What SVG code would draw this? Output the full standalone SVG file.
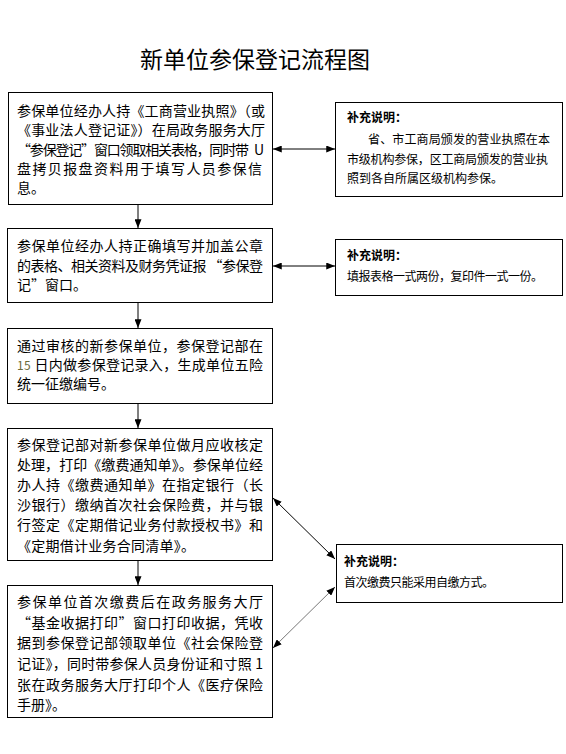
<svg xmlns="http://www.w3.org/2000/svg" width="566" height="754" viewBox="0 0 566 754">
<defs>
<marker id="ah" viewBox="0 0 10 8" refX="10" refY="4" markerWidth="9" markerHeight="7" markerUnits="userSpaceOnUse" orient="auto-start-reverse">
<path d="M0,0 L10,4 L0,8 Z" fill="#000"/>
</marker>
</defs>
<style>
.box{fill:#fff;stroke:#000;stroke-width:1}
.t{font-family:"Noto Sans CJK SC","Liberation Sans",sans-serif;font-size:14px;fill:#000}
.n{font-family:"Noto Sans CJK SC","Liberation Sans",sans-serif;font-size:12px;fill:#000}
.b{font-weight:bold}
.c{stroke:#000;stroke-width:1;fill:none}
</style>
<rect width="566" height="754" fill="#fff"/>
<text x="255" y="68" text-anchor="middle" font-family="'Noto Sans CJK SC','Liberation Sans',sans-serif" font-size="23">新单位参保登记流程图</text>

<g id="connectors">
<line class="c" x1="138" y1="204" x2="138" y2="228" marker-end="url(#ah)"/>
<line class="c" x1="138" y1="302" x2="138" y2="328" marker-end="url(#ah)"/>
<line class="c" x1="138" y1="403" x2="138" y2="428" marker-end="url(#ah)"/>
<line class="c" x1="138" y1="560" x2="138" y2="585" marker-end="url(#ah)"/>
<line class="c" x1="273" y1="149" x2="335" y2="149" marker-start="url(#ah)" marker-end="url(#ah)"/>
<line class="c" x1="273" y1="266" x2="335" y2="266" marker-start="url(#ah)" marker-end="url(#ah)"/>
<line class="c" x1="273" y1="498" x2="335" y2="559" marker-start="url(#ah)" marker-end="url(#ah)"/>
<line x1="335" y1="587" x2="273" y2="648" stroke="#777" stroke-width="1" marker-start="url(#ah)" marker-end="url(#ah)"/>
</g>

<g id="step1">
<rect class="box" x="8.5" y="92.5" width="264" height="112"/>
<text class="t" x="17" y="116" textLength="248" lengthAdjust="spacing">参保单位经办人持《工商营业执照》（或</text>
<text class="t" x="17" y="135" textLength="248" lengthAdjust="spacing">《事业法人登记证》）在局政务服务大厅</text>
<text class="t" x="17" y="155" textLength="232" lengthAdjust="spacing">“参保登记”窗口领取相关表格，同时带</text>
<text class="t" x="254" y="155" fill="#555" font-size="12">U</text>
<text class="t" x="17" y="174" textLength="245" lengthAdjust="spacing">盘拷贝报盘资料用于填写人员参保信</text>
<text class="t" x="17" y="193">息。</text>
</g>

<g id="note1">
<rect class="box" x="335.5" y="102.5" width="227" height="94"/>
<text class="n b" x="347" y="122">补充说明：</text>
<text class="n" x="368" y="144" textLength="182" lengthAdjust="spacing">省、市工商局颁发的营业执照在本</text>
<text class="n" x="347" y="164" textLength="201" lengthAdjust="spacing">市级机构参保，区工商局颁发的营业执</text>
<text class="n" x="347" y="183">照到各自所属区级机构参保。</text>
</g>

<g id="step2">
<rect class="box" x="7.5" y="228.5" width="265" height="74"/>
<text class="t" x="17" y="251" textLength="246" lengthAdjust="spacing">参保单位经办人持正确填写并加盖公章</text>
<text class="t" x="17" y="271" textLength="246" lengthAdjust="spacing">的表格、相关资料及财务凭证报 “参保登</text>
<text class="t" x="17" y="290">记”窗口。</text>
</g>

<g id="note2">
<rect class="box" x="335.5" y="239.5" width="227" height="56"/>
<text class="n b" x="347" y="260">补充说明：</text>
<text class="n" x="347" y="281" textLength="196" lengthAdjust="spacing">填报表格一式两份，复印件一式一份。</text>
</g>

<g id="step3">
<rect class="box" x="7.5" y="328.5" width="265" height="75"/>
<text class="t" x="17" y="351" textLength="246" lengthAdjust="spacing">通过审核的新参保单位，参保登记部在</text>
<text class="t" x="17" y="370" textLength="246" lengthAdjust="spacing"><tspan fill="#6b6b3a" font-size="12">15</tspan> 日内做参保登记录入，生成单位五险</text>
<text class="t" x="17" y="389">统一征缴编号。</text>
</g>

<g id="step4">
<rect class="box" x="7.5" y="428.5" width="265" height="132"/>
<text class="t" x="17" y="450" textLength="246" lengthAdjust="spacing">参保登记部对新参保单位做月应收核定</text>
<text class="t" x="17" y="470" textLength="246" lengthAdjust="spacing">处理，打印《缴费通知单》。参保单位经</text>
<text class="t" x="17" y="490" textLength="246" lengthAdjust="spacing">办人持《缴费通知单》在指定银行（长</text>
<text class="t" x="17" y="510" textLength="246" lengthAdjust="spacing">沙银行）缴纳首次社会保险费，并与银</text>
<text class="t" x="17" y="530" textLength="246" lengthAdjust="spacing">行签定《定期借记业务付款授权书》和</text>
<text class="t" x="17" y="551" textLength="178" lengthAdjust="spacing">《定期借计业务合同清单》。</text>
</g>

<g id="note3">
<rect class="box" x="336.5" y="544.5" width="226" height="58"/>
<text class="n b" x="344" y="566">补充说明：</text>
<text class="n" x="344" y="587" textLength="150" lengthAdjust="spacing">首次缴费只能采用自缴方式。</text>
</g>

<g id="step5">
<rect class="box" x="7.5" y="585.5" width="265" height="132"/>
<text class="t" x="17" y="607" textLength="246" lengthAdjust="spacing">参保单位首次缴费后在政务服务大厅</text>
<text class="t" x="17" y="628" textLength="246" lengthAdjust="spacing">“基金收据打印”窗口打印收据，凭收</text>
<text class="t" x="17" y="648" textLength="246" lengthAdjust="spacing">据到参保登记部领取单位《社会保险登</text>
<text class="t" x="17" y="669" textLength="246" lengthAdjust="spacing">记证》，同时带参保人员身份证和寸照 1</text>
<text class="t" x="17" y="690" textLength="246" lengthAdjust="spacing">张在政务服务大厅打印个人《医疗保险</text>
<text class="t" x="17" y="710">手册》。</text>
</g>
</svg>
